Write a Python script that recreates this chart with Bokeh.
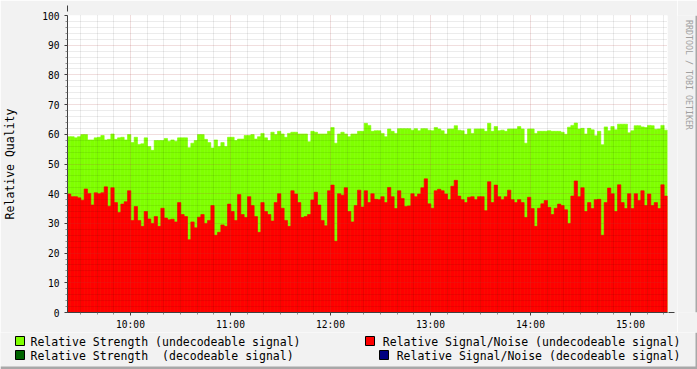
import math
from bokeh.plotting import figure
from bokeh.layouts import column, row
from bokeh.models import Range1d, FixedTicker, Arrow, NormalHead, ColumnDataSource
from bokeh.core.properties import value
from bokeh.embed import file_html
from bokeh.resources import INLINE

# ---- data (2-minute samples starting 09:22:12) ----
start_minute = 562.2
step_minutes = 2.0

strength_undecodeable = [
    59.2, 59.2, 58.8, 59.2, 59.9, 59.9, 58.1, 58.1, 58.8, 59.0, 59.6, 58.1, 58.3, 60.1, 58.3, 58.8, 59.0, 58.1,
    59.9, 57.2, 59.0, 56.6, 56.8, 58.8, 55.9, 54.6, 57.9, 57.9, 57.9, 58.6, 57.7, 58.1, 57.7, 58.8, 58.8, 58.8,
    55.5, 57.0, 57.9, 59.9, 59.9, 58.3, 57.2, 55.4, 58.1, 55.9, 57.2, 55.9, 59.0, 59.0, 57.9, 58.4, 58.4, 59.6,
    59.6, 59.9, 58.4, 59.2, 60.3, 58.8, 57.9, 60.7, 59.9, 61.0, 60.1, 59.0, 60.3, 60.7, 60.7, 60.1, 60.1, 60.1,
    57.5, 61.0, 60.7, 60.1, 60.1, 60.1, 61.0, 62.3, 57.0, 60.1, 60.7, 60.1, 59.2, 60.1, 60.1, 61.0, 61.0, 63.7,
    63.0, 61.0, 61.2, 61.2, 60.3, 59.2, 61.8, 61.0, 60.3, 61.9, 61.9, 61.9, 61.9, 61.4, 61.9, 61.2, 61.9, 61.9,
    61.4, 61.2, 62.3, 61.8, 61.2, 60.1, 61.8, 61.8, 62.9, 61.4, 61.2, 60.0, 61.8, 60.3, 61.8, 61.8, 61.8, 61.0,
    63.7, 61.0, 62.6, 61.2, 61.4, 61.0, 61.8, 61.8, 61.8, 62.6, 61.8, 57.0, 61.8, 61.8, 60.3, 61.0, 61.0, 61.0,
    61.2, 61.0, 61.0, 61.0, 60.7, 60.0, 62.4, 63.0, 63.8, 61.8, 62.0, 60.1, 62.0, 61.5, 59.5, 61.0, 56.5, 62.5,
    61.2, 62.6, 61.5, 63.4, 63.4, 63.4, 60.5, 61.2, 62.9, 62.9, 62.5, 62.3, 63.0, 62.9, 61.7, 61.8, 63.0, 61.4,
]

snr_undecodeable = [
    39.9, 39.0, 39.0, 38.6, 37.8, 41.6, 40.1, 36.2, 40.3, 40.0, 40.3, 42.3, 35.8, 42.0, 37.0, 33.7, 36.5, 37.3,
    41.0, 31.0, 35.7, 31.0, 29.0, 34.0, 31.5, 30.0, 32.3, 29.0, 35.1, 31.8, 31.2, 31.4, 30.5, 37.0, 33.0, 32.3,
    24.5, 30.5, 28.5, 32.1, 33.0, 30.0, 31.0, 36.0, 26.0, 27.0, 29.5, 29.0, 36.5, 34.0, 31.0, 39.7, 33.0, 32.0,
    39.0, 36.0, 32.3, 27.0, 37.0, 34.0, 33.0, 30.8, 37.0, 40.0, 35.1, 31.0, 29.0, 41.0, 39.9, 37.0, 32.0, 32.3,
    33.0, 37.9, 40.5, 36.2, 31.0, 29.2, 41.0, 42.9, 24.0, 40.0, 39.5, 42.0, 34.0, 30.5, 36.0, 41.2, 35.5, 41.0,
    37.0, 40.0, 38.1, 38.0, 39.0, 37.0, 42.1, 39.0, 35.0, 41.0, 38.4, 35.7, 35.9, 40.0, 39.0, 39.9, 42.0, 45.0,
    36.6, 35.1, 41.0, 41.5, 41.0, 39.9, 38.0, 42.5, 44.5, 39.2, 38.0, 37.0, 38.8, 39.0, 38.0, 39.0, 39.0, 34.3,
    44.0, 37.0, 42.9, 39.0, 38.0, 39.0, 41.2, 38.0, 37.0, 38.0, 37.0, 32.0, 38.8, 35.0, 29.0, 35.1, 36.6, 37.7,
    35.4, 33.0, 35.1, 36.5, 36.0, 34.6, 30.0, 39.2, 44.3, 39.0, 42.0, 34.0, 37.0, 35.0, 38.0, 38.1, 26.0, 37.0,
    41.9, 40.0, 34.0, 43.0, 37.0, 35.0, 40.0, 35.0, 40.0, 37.7, 41.0, 36.0, 39.9, 36.0, 37.0, 35.0, 43.0, 39.2,
]

y_ticks = [0, 10, 20, 30, 40, 50, 60, 70, 80, 90, 100]
x_tick_minutes = [600, 660, 720, 780, 840, 900]
x_tick_labels = ["10:00", "11:00", "12:00", "13:00", "14:00", "15:00"]

legend_labels = [
    "Relative Strength (undecodeable signal)",
    "Relative Strength \u00a0(decodeable signal)",
    "Relative Signal/Noise (undecodeable signal)",
    "Relative Signal/Noise (decodeable signal)",
]
legend_colors = ["#7FFF00", "#006400", "#FF0000", "#000080"]
watermark = "RRDTOOL / TOBI OETIKER"

# ---- layout constants (page pixels) ----
BG = "#F2F2F2"
W, H = 697, 369
FL, FR, FT, FB = 67, 667, 15, 315
MAIN_W, MAIN_H = 677, 332
SIDE_W = W - MAIN_W
LEG_H = H - MAIN_H
MONO = "DejaVu Sans Mono"

# ---- main chart ----
n = len(strength_undecodeable)
lefts = [start_minute + i * step_minutes for i in range(n)]
rights = [l + step_minutes for l in lefts]
src = ColumnDataSource(dict(left=lefts, right=rights,
                            strength=strength_undecodeable, snr=snr_undecodeable))

p = figure(width=MAIN_W, height=MAIN_H, output_backend="svg", toolbar_location=None,
           x_range=Range1d(start_minute, start_minute + 360), y_range=Range1d(0, 100),
           min_border_left=FL, min_border_right=MAIN_W - FR, min_border_top=FT,
           min_border_bottom=MAIN_H - FB,
           background_fill_color="white", border_fill_color=BG)
p.outline_line_color = None

p.quad(left="left", right="right", bottom=0, top="strength", source=src,
       fill_color="#7FFF00", line_color="#7FFF00", line_width=0.6)
p.quad(left="left", right="right", bottom=0, top="snr", source=src,
       fill_color="#FF0000", line_color="#FF0000", line_width=0.6)

x_minor = [m for m in range(570, 930, 10) if m % 60 != 0]
y_minor = [v for v in range(0, 101, 2) if v % 10 != 0]
xt = FixedTicker(ticks=x_tick_minutes, minor_ticks=x_minor)
yt = FixedTicker(ticks=y_ticks, minor_ticks=y_minor)

xa = p.xaxis[0]
ya = p.yaxis[0]
xa.ticker = xt
ya.ticker = yt
xa.major_label_overrides = {m: lab for m, lab in zip(x_tick_minutes, x_tick_labels)}
for ax in (xa, ya):
    ax.axis_line_color = "#404040"
    ax.major_tick_line_color = "#404040"
    ax.major_tick_out = 3
    ax.major_tick_in = 0
    ax.minor_tick_line_color = "#909090"
    ax.minor_tick_out = 2
    ax.minor_tick_in = 0
    ax.major_label_text_font = MONO
    ax.major_label_text_font_size = "9.6px"
    ax.major_label_text_color = "black"
xa.major_label_standoff = 3
ya.major_label_standoff = 5
ya.axis_label = "Relative Quality"
ya.axis_label_text_font = MONO
ya.axis_label_text_font_size = "11.5px"
ya.axis_label_text_font_style = "normal"
ya.axis_label_text_color = "black"
ya.axis_label_standoff = 22

for g, t in ((p.xgrid[0], xt), (p.ygrid[0], yt)):
    g.ticker = t
    g.level = "overlay"
    g.grid_line_color = "#B04040"
    g.grid_line_alpha = 0.35
    g.grid_line_dash = "1 1"
    g.minor_grid_line_color = "black"
    g.minor_grid_line_alpha = 0.15
    g.minor_grid_line_dash = "1 1"

# axis extension arrows (screen units relative to the frame)
p.add_layout(Arrow(x_start=0, y_start=0, x_end=0, y_end=FB - 8, start_units="screen", end_units="screen",
                   line_color="#404040", line_width=1,
                   end=NormalHead(size=6, fill_color="#A01010", line_color="#A01010")))
p.add_layout(Arrow(x_start=-4, y_start=0, x_end=674 - FL, y_end=0, start_units="screen", end_units="screen",
                   line_color="#404040", line_width=1,
                   end=NormalHead(size=6, fill_color="#A01010", line_color="#A01010")))

# ---- right strip with watermark (data units = page pixels, y downward) ----
side = figure(width=SIDE_W, height=MAIN_H, output_backend="svg", toolbar_location=None,
              x_range=Range1d(MAIN_W, W), y_range=Range1d(MAIN_H, 0),
              min_border=0, background_fill_color=BG, border_fill_color=BG)
side.axis.visible = False
side.grid.visible = False
side.outline_line_color = None
side.text(x=[688], y=[5], text=[watermark], angle=-math.pi / 2,
          text_font=value(MONO), text_font_size="8.3px", text_color="#A0A0A0",
          text_align="left", text_baseline="middle")
side.quad(left=[695], right=[697], top=[0], bottom=[MAIN_H], fill_color="#A8A8A8", line_color=None)

# ---- legend strip (data units = page pixels, y downward) ----
leg = figure(width=W, height=LEG_H, output_backend="svg", toolbar_location=None,
             x_range=Range1d(0, W), y_range=Range1d(H, MAIN_H),
             min_border=0, background_fill_color=BG, border_fill_color=BG)
leg.axis.visible = False
leg.grid.visible = False
leg.outline_line_color = None

box_x = [15, 15, 365, 379]
box_y = [336, 350, 336, 350]
text_x = [30, 30, 680, 680]
text_align = ["left", "left", "right", "right"]
leg.quad(left=box_x, right=[b + 9 for b in box_x], top=box_y, bottom=[b + 9 for b in box_y],
         fill_color=legend_colors, line_color="black", line_width=1)
leg.text(x=text_x, y=[b + 5 for b in box_y], text=legend_labels, text_align=text_align,
         text_font=value(MONO), text_font_size="11.5px", text_color="black", text_baseline="middle")
leg.quad(left=[695], right=[697], top=[MAIN_H], bottom=[H], fill_color="#A8A8A8", line_color=None)
leg.quad(left=[0], right=[W], top=[366], bottom=[H], fill_color="#A8A8A8", line_color=None)

layout = column(row(p, side, spacing=0), leg, spacing=0)
open("out.html", "w").write(file_html(layout, INLINE))
